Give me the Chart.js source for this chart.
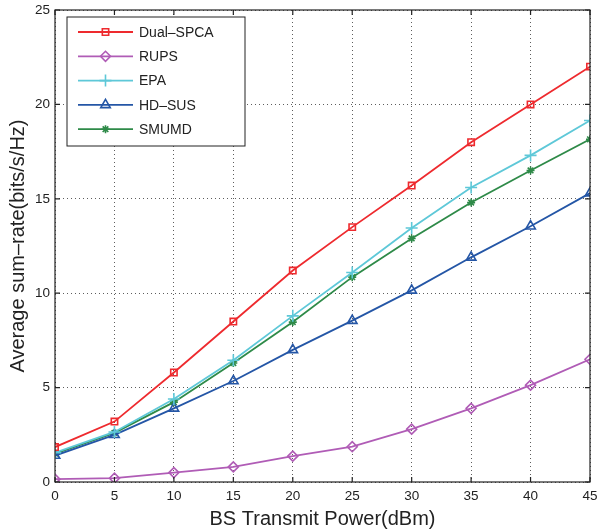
<!DOCTYPE html>
<html>
<head>
<meta charset="utf-8">
<script src="https://cdn.jsdelivr.net/npm/chart.js@4.4.1/dist/chart.umd.min.js"></script>
<style>
  html, body { margin: 0; padding: 0; background: #fff; }
  #wrap { width: 599px; height: 531px; }
</style>
</head>
<body>
<div id="wrap"><canvas id="c" width="599" height="531"></canvas></div>
<script>
// Transmit power levels (dBm)
const powerDbm = [0, 5, 10, 15, 20, 25, 30, 35, 40, 45];

// Average sum-rate per scheme (bits/s/Hz)
const dualSpca = [1.85, 3.2, 5.8, 8.5, 11.2, 13.5, 15.7, 18.0, 20.0, 22.0];
const rups     = [0.15, 0.2, 0.5, 0.8, 1.37, 1.87, 2.8, 3.9, 5.13, 6.5];
const epa      = [1.55, 2.65, 4.4, 6.45, 8.8, 11.1, 13.45, 15.6, 17.3, 19.15];
const smumd    = [1.5, 2.6, 4.23, 6.3, 8.47, 10.85, 12.9, 14.8, 16.5, 18.15];
const hdSus    = [1.4, 2.5, 3.9, 5.35, 7.0, 8.55, 10.15, 11.9, 13.55, 15.3];

const xTicks = [0, 5, 10, 15, 20, 25, 30, 35, 40, 45];
const yTicks = [0, 5, 10, 15, 20, 25];

const FONT = '"Liberation Sans", Arial, Helvetica, sans-serif';

function series(label, values, color, style, radius, fill) {
  return {
    label,
    data: values.map((v, i) => ({ x: powerDbm[i], y: v })),
    borderColor: color,
    backgroundColor: fill ? color : 'rgba(255,255,255,0)',
    pointBorderColor: color,
    pointBackgroundColor: fill ? color : 'rgba(255,255,255,0)',
    pointStyle: style,
    pointRadius: radius,
    pointBorderWidth: 1.6,
    borderWidth: 1.8,
    tension: 0,
    fill: false
  };
}

const datasets = [
  series('Dual\u2013SPCA', dualSpca, '#ee2a2e', 'rect', 4.5, false),
  series('RUPS', rups, '#b05cb6', 'rectRot', 5, false),
  series('EPA', epa, '#5ec8d8', 'cross', 6, false),
  series('HD\u2013SUS', hdSus, '#2456a6', 'triangle', 5.5, false),
  series('SMUMD', smumd, '#2e8a48', 'star', 4, true)
];

// Boxed axes with inward ticks plus an in-plot legend
const framePlugin = {
  id: 'frame',
  afterDraw(chart) {
    const { ctx, chartArea: a, scales } = chart;
    ctx.save();
    ctx.strokeStyle = '#222';
    ctx.lineWidth = 1.2;
    ctx.strokeRect(a.left, a.top, a.right - a.left, a.bottom - a.top);
    ctx.beginPath();
    const tl = 5;
    xTicks.forEach(t => {
      const px = scales.x.getPixelForValue(t);
      ctx.moveTo(px, a.bottom); ctx.lineTo(px, a.bottom - tl);
      ctx.moveTo(px, a.top); ctx.lineTo(px, a.top + tl);
    });
    yTicks.forEach(t => {
      const py = scales.y.getPixelForValue(t);
      ctx.moveTo(a.left, py); ctx.lineTo(a.left + tl, py);
      ctx.moveTo(a.right, py); ctx.lineTo(a.right - tl, py);
    });
    ctx.stroke();

    // legend box
    const lx = a.left + 12, ly = a.top + 7, lw = 178, lh = 129;
    ctx.fillStyle = '#fff';
    ctx.fillRect(lx, ly, lw, lh);
    ctx.strokeStyle = '#222';
    ctx.lineWidth = 1;
    ctx.strokeRect(lx, ly, lw, lh);
    const rowH = 24.3;
    chart.data.datasets.forEach((ds, i) => {
      const cy = ly + 15 + i * rowH;
      ctx.strokeStyle = ds.borderColor;
      ctx.lineWidth = ds.borderWidth;
      ctx.beginPath();
      ctx.moveTo(lx + 11, cy); ctx.lineTo(lx + 66, cy);
      ctx.stroke();
      ctx.lineWidth = ds.pointBorderWidth;
      ctx.fillStyle = ds.pointBackgroundColor;
      Chart.helpers.drawPoint(ctx, {
        pointStyle: ds.pointStyle,
        radius: ds.pointRadius,
        rotation: 0,
        borderWidth: ds.pointBorderWidth
      }, lx + 38.5, cy);
      ctx.fillStyle = '#222';
      ctx.font = '14px ' + FONT;
      ctx.textBaseline = 'middle';
      ctx.textAlign = 'left';
      ctx.fillText(ds.label, lx + 72, cy + 1);
    });
    ctx.restore();
  }
};

new Chart(document.getElementById('c'), {
  type: 'line',
  data: { datasets },
  plugins: [framePlugin],
  options: {
    responsive: false,
    animation: false,
    layout: { padding: { top: 10, right: 9, left: 0, bottom: 0 } },
    plugins: { legend: { display: false }, tooltip: { enabled: false } },
    scales: {
      x: {
        type: 'linear',
        min: 0, max: 45,
        afterBuildTicks: s => { s.ticks = xTicks.map(v => ({ value: v })); },
        afterFit: s => { s.height = 49; s.paddingLeft = 0; s.paddingRight = 0; },
        grid: { color: '#333', lineWidth: 0.8, tickLength: 0, drawOnChartArea: true },
        border: { display: false, dash: [1, 3] },
        ticks: { color: '#222', font: { family: FONT, size: 13.5 }, padding: 6, maxRotation: 0 },
        title: { display: true, text: 'BS Transmit Power(dBm)', color: '#222',
                 font: { family: FONT, size: 20 }, padding: { top: 0, bottom: 0 } }
      },
      y: {
        type: 'linear',
        min: 0, max: 25,
        afterBuildTicks: s => { s.ticks = yTicks.map(v => ({ value: v })); },
        afterFit: s => { s.width = 55; s.paddingTop = 0; s.paddingBottom = 0; },
        grid: { color: '#333', lineWidth: 0.8, tickLength: 0 },
        border: { display: false, dash: [1, 3] },
        ticks: { color: '#222', font: { family: FONT, size: 13.5 }, padding: 5 },
        title: { display: true, text: 'Average sum\u2013rate(bits/s/Hz)', color: '#222',
                 font: { family: FONT, size: 20 }, padding: { top: 6, bottom: 0 } }
      }
    }
  }
});
</script>
</body>
</html>
